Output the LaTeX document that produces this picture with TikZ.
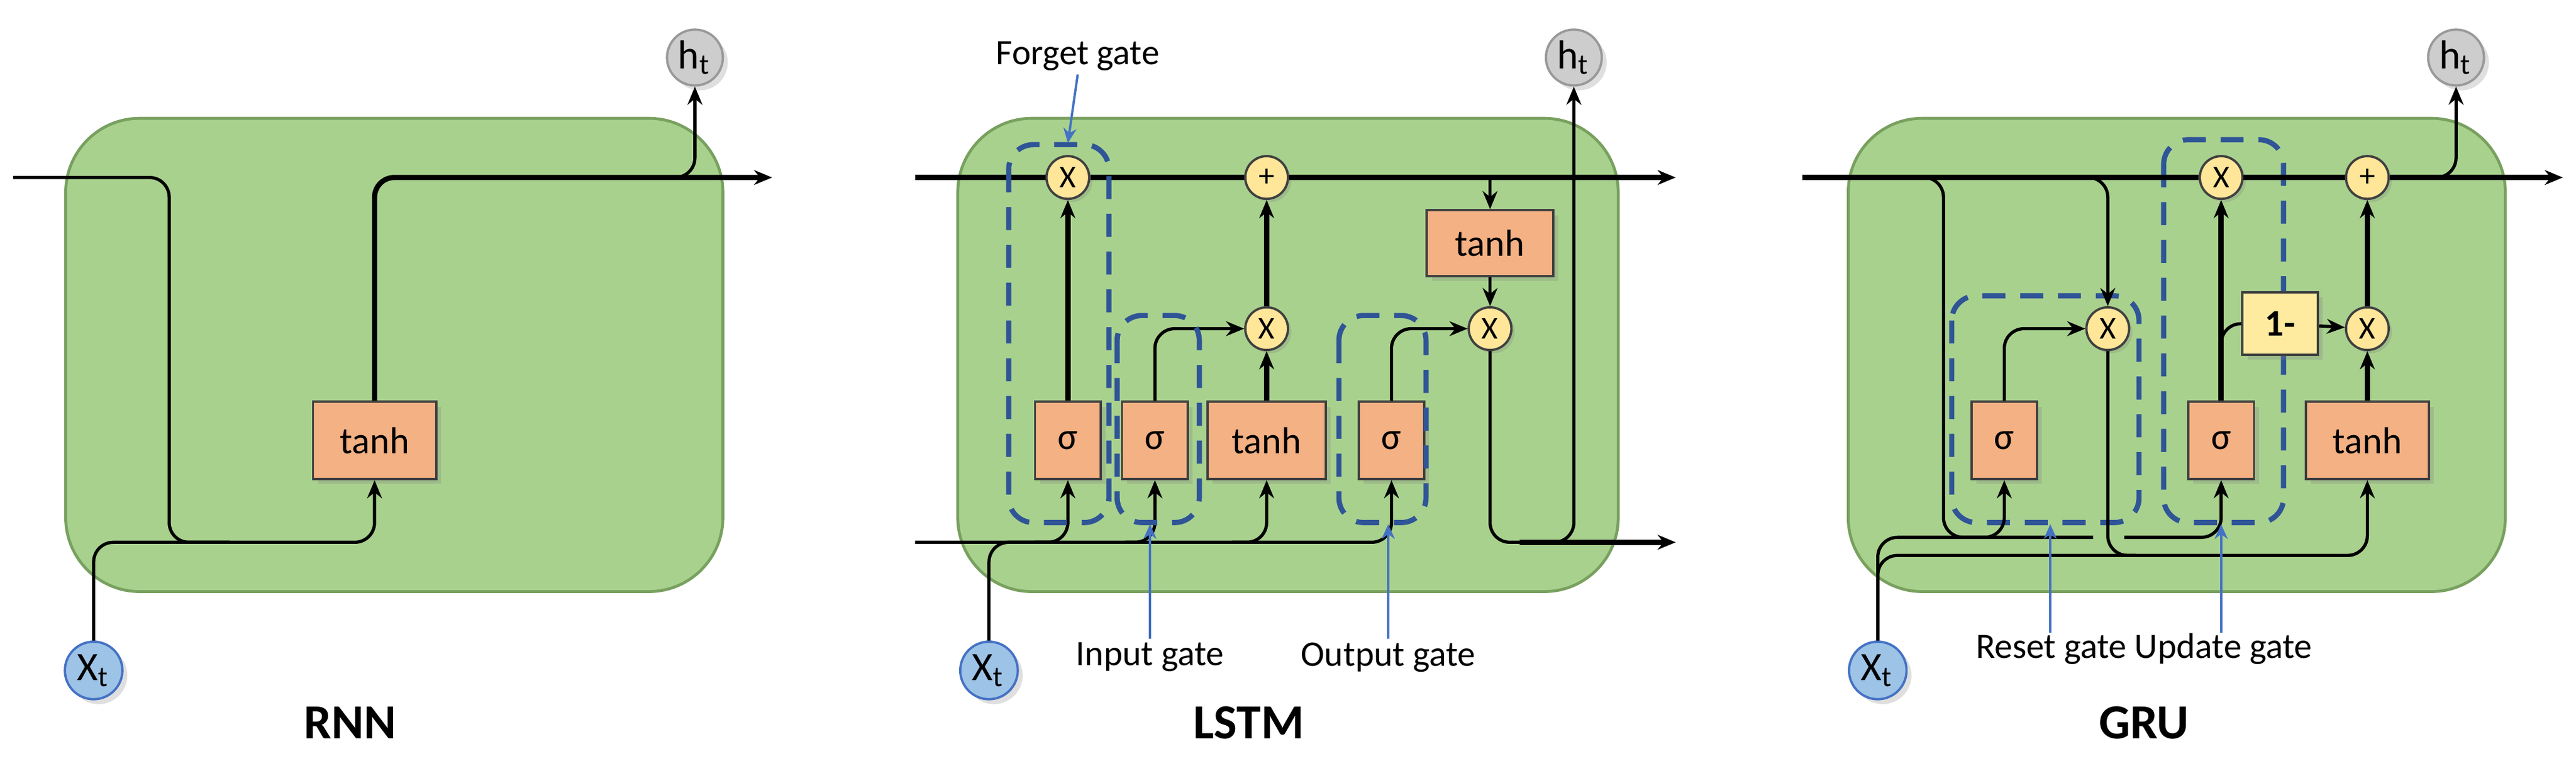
\documentclass[tikz,border=0pt]{standalone}
\usepackage{fontspec}
\setmainfont{Carlito}
\usetikzlibrary{arrows.meta,shadows,positioning}

\definecolor{cellgreen}{RGB}{169,209,142}
\definecolor{celledge}{RGB}{120,160,95}
\definecolor{layerorange}{RGB}{244,177,131}
\definecolor{opyellow}{RGB}{255,230,153}
\definecolor{oneyellow}{RGB}{255,235,160}
\definecolor{stategray}{RGB}{205,205,205}
\definecolor{inputblue}{RGB}{157,195,230}
\definecolor{gateblue}{RGB}{47,85,151}
\definecolor{pointerblue}{RGB}{68,114,196}

\tikzset{
  cell/.style={draw=celledge, fill=cellgreen, rounded corners=4.5mm, line width=0.5pt},
  layer/.style={draw=black!75, fill=layerorange, minimum height=4.7mm, inner sep=0pt,
    font=\fontsize{6.5}{7}\selectfont, drop shadow={opacity=0.25, shadow xshift=0.3mm, shadow yshift=-0.3mm}},
  op/.style={circle, draw=black!75, fill=opyellow, minimum size=2.6mm, inner sep=0pt,
    font=\fontsize{5.5}{5.5}\selectfont, drop shadow={opacity=0.25, shadow xshift=0.2mm, shadow yshift=-0.2mm}},
  state/.style={circle, draw=black!40, fill=stategray, minimum size=3.4mm, inner sep=0pt,
    font=\fontsize{7}{7}\selectfont, drop shadow={opacity=0.25, shadow xshift=0.3mm, shadow yshift=-0.3mm}},
  input/.style={circle, draw=pointerblue, fill=inputblue, minimum size=3.5mm, inner sep=0pt,
    font=\fontsize{7}{7}\selectfont, drop shadow={opacity=0.25, shadow xshift=0.3mm, shadow yshift=-0.3mm}},
  wire/.style={draw=black, line width=0.55pt, rounded corners=1.2mm},
  bus/.style={draw=black, line width=0.9pt, rounded corners=1.2mm},
  tip/.style={-{Stealth[length=1.1mm,width=0.9mm]}},
  gatebox/.style={draw=gateblue, line width=0.9pt, dash pattern=on 1.4mm off 0.9mm, rounded corners=1.5mm},
  pointer/.style={draw=pointerblue, line width=0.4pt, -{Stealth[length=0.9mm,width=0.8mm]}},
  caption/.style={font=\fontsize{6.2}{6.5}\selectfont, inner sep=0.5pt},
  title/.style={font=\fontsize{8.5}{9}\bfseries\selectfont}
}

\begin{document}
\begin{tikzpicture}[x=0.1mm, y=-0.1mm]
\useasboundingbox (0,0) rectangle (1568,466);

%% RNN
\draw[cell] (40,72) rectangle (440,360);
\node[state] (rh) at (423,35) {h\textsubscript{t}};
\node[input] (rx) at (57,408) {X\textsubscript{t}};
\node[layer, minimum width=7.5mm] (rtanh) at (228,268) {tanh};
\coordinate (rin) at (8,108);
\coordinate (rout) at (470,108);
\coordinate (rtap) at (400,108);
\draw[wire,tip] (rin) -| (103,330) -| (rtanh.south);
\draw[wire] (rx.north) |- (140,330);
\draw[bus,tip] (rtanh.north) |- (rout);
\draw[wire,tip] (rtap) -| (rh.south);
\node[title] (rnn) at (213,440) {RNN};

%% LSTM
\draw[cell] (583,72) rectangle (985,360);
\node[state] (lh) at (958,35) {h\textsubscript{t}};
\node[input] (lx) at (602,408) {X\textsubscript{t}};
\node[op] (lfx) at (650,108) {X};
\node[op] (lplus) at (771,108) {+};
\node[op] (lix) at (771,200) {X};
\node[op] (lox) at (907,200) {X};
\node[layer, minimum width=7.7mm, minimum height=4mm] (ltanho) at (907,148) {tanh};
\node[layer, minimum width=4mm] (lsf) at (650,268) {σ};
\node[layer, minimum width=4mm] (lsi) at (703,268) {σ};
\node[layer, minimum width=7.2mm] (ltanh) at (771,268) {tanh};
\node[layer, minimum width=4mm] (lso) at (847,268) {σ};
\coordinate (lcin) at (557,108);
\coordinate (lcout) at (1020,108);
\coordinate (ltap) at (907,108);
\coordinate (lhin) at (557,330);
\coordinate (lhout) at (1020,330);
\coordinate (lhtap) at (945,330);
\coordinate (lturn) at (925,330);
\draw[wire,tip] (lhtap) -| (lh.south);
\draw[bus] (lcin) -- (lfx);
\draw[bus] (lfx) -- (lplus);
\draw[bus,tip] (lplus) -- (lcout);
\draw[wire,tip] (ltap) -- (ltanho.north);
\draw[wire,tip] (ltanho) -- (lox);
\draw[wire] (lx.north) |- (640,330);
\draw[wire,tip] (lhin) -| (lso.south);
\draw[wire,tip] (630,330) -| (lsf.south);
\draw[wire,tip] (685,330) -| (lsi.south);
\draw[wire,tip] (750,330) -| (ltanh.south);
\draw[bus,tip] (lsf) -- (lfx);
\draw[wire,tip] (lsi.north) |- (lix.west);
\draw[bus,tip] (ltanh) -- (lix);
\draw[bus,tip] (lix) -- (lplus);
\draw[wire,tip] (lso.north) |- (lox.west);
\draw[wire] (lox.south) |- (lturn);
\draw[bus,tip] (lturn) -- (lhout);
\draw[gatebox] (614,88) rectangle (675,318);
\draw[gatebox] (680,192) rectangle (730,318);
\draw[gatebox] (815,192) rectangle (868,318);
\node[caption] (lfg) at (656,34) {Forget gate};
\node[caption] (lig) at (700,400) {Input gate};
\node[caption] (log) at (845,400) {Output gate};
\draw[pointer] (lfg.south) -- (650,87);
\draw[pointer] (lig.north) -- (700,319);
\draw[pointer] (log.north) -- (845,319);
\node[title] (lstm) at (760,440) {LSTM};

%% GRU
\draw[cell] (1125,72) rectangle (1525,360);
\draw[gatebox] (1188,180) rectangle (1302,318);
\draw[gatebox] (1317,85) rectangle (1390,318);
\node[state] (gh) at (1495,35) {h\textsubscript{t}};
\node[input] (gx) at (1143,408) {X\textsubscript{t}};
\node[op] (gux) at (1352,108) {X};
\node[op] (gplus) at (1441,108) {+};
\node[op] (grx) at (1283,200) {X};
\node[op] (gmx) at (1441,200) {X};
\node[layer, fill=oneyellow, minimum width=4.6mm, minimum height=3.8mm, font=\fontsize{6.5}{7}\bfseries\selectfont] (gone) at (1388,197) {1-};
\node[layer, minimum width=4mm] (gsr) at (1220,268) {σ};
\node[layer, minimum width=4mm] (gsu) at (1352,268) {σ};
\node[layer, minimum width=7.5mm] (gtanh) at (1441,268) {tanh};
\coordinate (gin) at (1097,108);
\coordinate (gout) at (1560,108);
\coordinate (gtap) at (1485,108);
\coordinate (gloop) at (1165,108);
\coordinate (gtapr) at (1265,108);
\draw[bus] (gin) -- (gux);
\draw[bus] (gux) -- (gplus);
\draw[bus,tip] (gplus) -- (gout);
\draw[wire,tip] (gtap) -| (gh.south);
\draw[wire] (gloop) -| (1183,327) -- (1274,327);
\draw[wire,tip] (1293,327) -| (gsu.south);
\draw[wire,tip] (1200,327) -| (gsr.south);
\draw[wire,tip] (gtapr) -| (grx.north);
\draw[wire,tip] (grx.south) |- (1320,338) -| (gtanh.south);
\draw[wire] (gx.north) |- (1200,327);
\draw[wire] (gx.north) |- (1300,338);
\draw[wire,tip] (gsr.north) |- (grx.west);
\draw[bus,tip] (gsu) -- (gux);
\draw[wire] (1352,222) |- (gone.west);
\draw[wire,tip] (gone) -- (gmx);
\draw[bus,tip] (gtanh) -- (gmx);
\draw[bus,tip] (gmx) -- (gplus);
\node[caption] (ggates) at (1305,395) {Reset gate Update gate};
\coordinate (grp) at (1248,385);
\coordinate (gup) at (1352,385);
\draw[pointer] (grp) -- (1248,319);
\draw[pointer] (gup) -- (1352,319);
\node[title] (gru) at (1305,440) {GRU};
\end{tikzpicture}
\end{document}
